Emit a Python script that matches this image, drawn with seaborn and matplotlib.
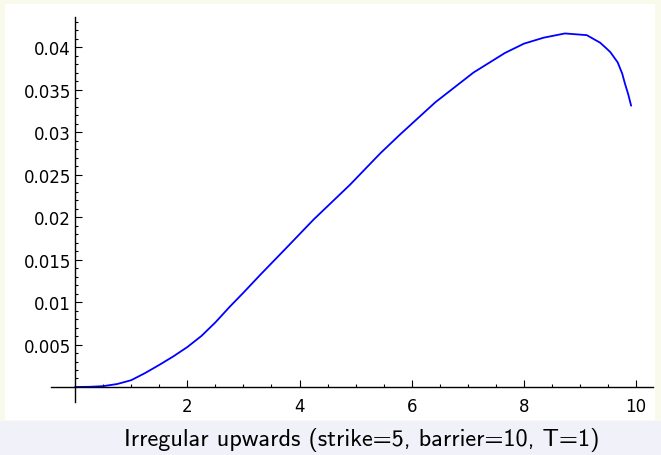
import numpy as np
import pandas as pd
import matplotlib
matplotlib.use("Agg")
import matplotlib.pyplot as plt
from matplotlib.patches import Rectangle
from matplotlib.ticker import FixedLocator
import seaborn as sns

# ---- data ----
spot = [0.0, 0.25, 0.5, 0.75, 1.0, 1.25, 1.5, 1.75, 2.0, 2.25, 2.5, 2.75, 3.0,
        3.3, 3.77, 4.25, 4.9, 5.44, 5.79, 6.42, 7.1, 7.66, 8.0, 8.35, 8.73,
        9.12, 9.36, 9.46, 9.54, 9.67, 9.75, 9.8, 9.86, 9.91]
price = [0.0, 0.00002, 0.0001, 0.00035, 0.0008, 0.00165, 0.0026, 0.0036, 0.0047,
         0.0060, 0.0076, 0.0094, 0.0111, 0.0132, 0.0164, 0.0197, 0.0238, 0.0275,
         0.0297, 0.0335, 0.0370, 0.0393, 0.0404, 0.0411, 0.0416, 0.0414, 0.0405,
         0.0399, 0.0394, 0.0382, 0.0369, 0.0357, 0.0344, 0.0331]
x_ticks = [2, 4, 6, 8, 10]
x_tick_labels = ["2", "4", "6", "8", "10"]
y_ticks = [0.005, 0.01, 0.015, 0.02, 0.025, 0.03, 0.035, 0.04]
y_tick_labels = ["0.005", "0.01", "0.015", "0.02", "0.025", "0.03", "0.035", "0.04"]
caption = "Irregular upwards (strike=5, barrier=10, T=1)"

df = pd.DataFrame({"spot": spot, "price": price})

sns.set_style("white")
plt.rcParams["font.family"] = ["DejaVu Sans"]

W, H = 661, 456
fig = plt.figure(figsize=(W / 100, H / 100), dpi=100, facecolor="#fafaec")

# background panels (figure pixel coords converted to fractions)
fig.patches.append(Rectangle((0, 0), 1, (H - 422) / H, transform=fig.transFigure,
                             facecolor="#f1f2f9", edgecolor="none", zorder=-3))
fig.patches.append(Rectangle((5 / W, (H - 421) / H), 650 / W, 416 / H,
                             transform=fig.transFigure, facecolor="white",
                             edgecolor="none", zorder=-2))

ax = fig.add_axes([51 / W, (H - 402.7) / H, 602 / W, 384.4 / H])
ax.set_facecolor("none")

sns.lineplot(data=df, x="spot", y="price", ax=ax, color="#0000ff", linewidth=1.3)

ax.set_xlim(-0.43, 10.30)
ax.set_ylim(-0.00173, 0.0435)

for s in ["top", "right"]:
    ax.spines[s].set_visible(False)
for s in ["left", "bottom"]:
    ax.spines[s].set_position(("data", 0))
    ax.spines[s].set_linewidth(1.0)
    ax.spines[s].set_color("black")

ax.set_xticks(x_ticks)
ax.set_xticklabels(x_tick_labels)
ax.set_yticks(y_ticks)
ax.set_yticklabels(y_tick_labels)
ax.xaxis.set_minor_locator(FixedLocator(np.arange(0.5, 10.3, 0.5)))
ax.yaxis.set_minor_locator(FixedLocator(np.arange(0.001, 0.0436, 0.001)))

ax.tick_params(which="both", direction="in", color="black", width=0.8,
               bottom=True, left=True, top=False, right=False)
ax.tick_params(which="major", length=5)
ax.tick_params(which="minor", length=2.5)
ax.tick_params(axis="x", which="major", labelsize=12, pad=7, labelcolor="black")
ax.tick_params(axis="y", which="major", labelsize=12, pad=3, labelcolor="black")
ax.set_xlabel("")
ax.set_ylabel("")

fig.text(361.5 / W, 1 - 440 / H, caption, ha="center", va="center",
         fontsize=17.5, family=["cmss10", "DejaVu Sans"], color="black")

fig.savefig("out.png", dpi=100, facecolor=fig.get_facecolor())
